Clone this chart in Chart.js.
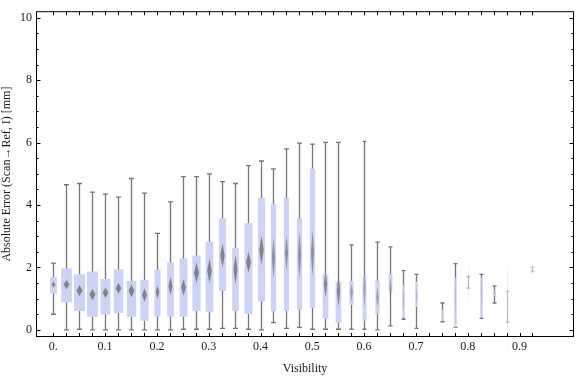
<!DOCTYPE html>
<html>
<head>
<meta charset="utf-8">
<script src="https://cdn.jsdelivr.net/npm/chart.js@4.4.1/dist/chart.umd.min.js"></script>
<style>
  html, body { margin: 0; padding: 0; background: #fff; }
</style>
</head>
<body>
<canvas id="chart" width="576" height="377"></canvas>
<script>
// bins of visibility (one box per bin), null = empty bin
const visibility = [0, 0.025, 0.05, 0.075, 0.1, 0.125, 0.15, 0.175, 0.2, 0.225,
  0.25, 0.275, 0.3, 0.325, 0.35, 0.375, 0.4, 0.425, 0.45, 0.475,
  0.5, 0.525, 0.55, 0.575, 0.6, 0.625, 0.65, 0.675, 0.7, 0.725,
  0.75, 0.775, 0.8, 0.825, 0.85, 0.875, 0.9, 0.925];
const whiskerLow = [0.50, 0.00, 0.02, 0.00, 0.00, 0.00, 0.00, 0.00, 0.00, 0.00,
  0.02, 0.02, 0.02, 0.05, 0.05, 0.02, 0.00, 0.23, 0.05, 0.08,
  0.02, 0.02, 0.02, 0.02, 0.02, 0.00, 0.13, 0.34, 0.05, null,
  0.26, 0.08, 1.34, 0.37, 0.86, 0.25, null, 1.87];
const quart1 = [1.17, 0.88, 0.60, 0.42, 0.49, 0.54, 0.42, 0.29, 0.42, 0.42,
  0.42, 0.60, 0.56, 1.25, 0.60, 0.51, 0.92, 0.60, 0.61, 0.64,
  0.70, 0.36, 0.23, 0.80, 0.29, 0.51, 1.28, 0.40, 0.73, null,
  0.28, 0.08, 1.40, 0.40, 1.08, 0.60, null, 1.90];
const median = [1.45, 1.45, 1.26, 1.13, 1.19, 1.33, 1.25, 1.12, 1.21, 1.40,
  1.36, 1.83, 1.89, 2.38, 1.93, 2.17, 2.56, 2.30, 2.46, 2.40,
  2.46, 1.46, 1.25, 1.20, 1.31, 1.04, 1.32, 1.00, 1.10, null,
  0.42, 1.10, 1.53, 1.19, 1.18, 0.75, null, 1.93];
const quart3 = [1.69, 1.97, 1.78, 1.87, 1.63, 1.94, 1.57, 1.60, 1.93, 2.16,
  2.29, 2.38, 2.82, 3.57, 2.63, 3.42, 4.23, 4.04, 4.23, 3.57,
  5.17, 1.78, 1.54, 1.57, 1.76, 1.57, 1.78, 1.43, 1.55, null,
  0.63, 1.67, 1.65, 1.67, 1.28, 0.90, null, 1.97];
const whiskerHigh = [2.14, 4.65, 4.69, 4.41, 4.35, 4.25, 4.85, 4.38, 3.09, 4.10,
  4.91, 4.91, 5.00, 4.75, 4.69, 5.26, 5.41, 5.16, 5.80, 5.98,
  5.95, 6.01, 6.01, 2.72, 6.04, 2.81, 2.66, 1.90, 1.78, null,
  0.86, 2.12, 1.71, 1.78, 1.41, 1.23, null, 2.01];
// half height of the median confidence diamond
const medianSpread = [0.10, 0.15, 0.18, 0.18, 0.17, 0.17, 0.21, 0.21, 0.21, 0.29,
  0.27, 0.34, 0.39, 0.39, 0.47, 0.34, 0.47, 0.66, 0.57, 0.76,
  0.74, 0.42, 0.52, 0.29, 0.60, 0.31, 0.37, 0.40, 0.30, null,
  0.20, 1.10, 0.77, 0.82, 0.10, 1.75, null, 0.21];
// relative sample size of each bin (drives box width)
const sampleShare = [0.61, 0.97, 1.00, 1.00, 0.88, 0.85, 0.85, 0.75, 0.55, 0.61,
  0.70, 0.75, 0.70, 0.66, 0.61, 0.73, 0.66, 0.48, 0.48, 0.48,
  0.48, 0.52, 0.52, 0.39, 0.36, 0.39, 0.36, 0.21, 0.21, 0,
  0.18, 0.18, 0.06, 0.18, 0.25, 0.05, 0, 0.05];

const xLabelValues = [0, 0.1, 0.2, 0.3, 0.4, 0.5, 0.6, 0.7, 0.8, 0.9];
const xTickLabels = ['0.', '0.1', '0.2', '0.3', '0.4', '0.5', '0.6', '0.7', '0.8', '0.9'];
const yLabelValues = [0, 2, 4, 6, 8, 10];
const yTickLabels = ['0', '2', '4', '6', '8', '10'];

const FONT = 'Liberation Serif';
const MAX_BOX = 11;

function clamp(v, a, b) { return Math.max(a, Math.min(b, v)); }

const boxWhiskerPlugin = {
  id: 'boxWhisker',
  afterDatasetsDraw(chart) {
    const ctx = chart.ctx;
    const xs = chart.scales.x, ys = chart.scales.y;
    ctx.save();
    visibility.forEach((v, i) => {
      if (median[i] == null) return;
      const x = Math.round(xs.getPixelForValue(v)) + 0.5;
      const w = MAX_BOX * sampleShare[i];
      const lineAlpha = clamp(sampleShare[i] * 8, 0.4, 1);
      const cap = clamp(w * 0.5, 2, 2.5);
      // whisker
      ctx.strokeStyle = 'rgba(118,118,118,' + lineAlpha + ')';
      ctx.lineWidth = 1.3;
      const yl = ys.getPixelForValue(whiskerLow[i]);
      const yh = ys.getPixelForValue(whiskerHigh[i]);
      ctx.beginPath();
      ctx.moveTo(x, yl); ctx.lineTo(x, yh);
      ctx.moveTo(x - cap, yl); ctx.lineTo(x + cap, yl);
      ctx.moveTo(x - cap, yh); ctx.lineTo(x + cap, yh);
      ctx.stroke();
      // box
      const y1 = ys.getPixelForValue(quart1[i]);
      const y3 = ys.getPixelForValue(quart3[i]);
      ctx.fillStyle = '#cdd3f5';
      ctx.fillRect(x - w / 2, y3, w, y1 - y3);
      // median diamond
      const ym = ys.getPixelForValue(median[i]);
      const yt = ys.getPixelForValue(median[i] + medianSpread[i]);
      const yb = ys.getPixelForValue(median[i] - medianSpread[i]);
      const hw = clamp(w * 0.3, 0.5, 3);
      const a = clamp(sampleShare[i] * 1.4, 0.2, 0.8);
      ctx.save();
      ctx.filter = 'blur(0.6px)';
      ctx.fillStyle = 'rgba(110,110,110,' + a + ')';
      ctx.beginPath();
      ctx.moveTo(x, yt); ctx.lineTo(x + hw, ym); ctx.lineTo(x, yb); ctx.lineTo(x - hw, ym);
      ctx.closePath();
      ctx.fill();
      ctx.restore();
    });

    // frame with inward ticks on all sides
    const ca = chart.chartArea;
    ctx.strokeStyle = '#000';
    ctx.lineWidth = 1;
    ctx.strokeRect(ca.left + 0.5, ca.top + 0.5, ca.right - ca.left - 1, ca.bottom - ca.top - 1);
    ctx.beginPath();
    xs.ticks.forEach(t => {
      const px = Math.round(xs.getPixelForValue(t.value)) + 0.5;
      ctx.moveTo(px, ca.bottom); ctx.lineTo(px, ca.bottom - 4);
      ctx.moveTo(px, ca.top); ctx.lineTo(px, ca.top + 4);
    });
    ys.ticks.forEach(t => {
      const py = Math.round(ys.getPixelForValue(t.value)) + 0.5;
      const len = yLabelValues.includes(t.value) ? 4.5 : 2.5;
      ctx.moveTo(ca.left, py); ctx.lineTo(ca.left + len, py);
      ctx.moveTo(ca.right, py); ctx.lineTo(ca.right - len, py);
    });
    ctx.stroke();
    ctx.restore();
  }
};

const yTickValues = [];
for (let k = 0; k <= 20; k++) yTickValues.push(k * 0.5);

new Chart(document.getElementById('chart'), {
  type: 'scatter',
  data: {
    datasets: [{
      label: 'median',
      data: visibility.map((v, i) => ({ x: v, y: median[i] })).filter(p => p.y != null),
      pointRadius: 0,
      showLine: false
    }]
  },
  options: {
    responsive: false,
    animation: false,
    layout: { padding: { top: 4, right: 2, left: 0, bottom: 0 } },
    plugins: { legend: { display: false }, tooltip: { enabled: false } },
    scales: {
      x: {
        type: 'linear',
        min: -0.0334,
        max: 1.0052,
        afterBuildTicks: s => { s.ticks = visibility.map(v => ({ value: v })); },
        afterFit: s => { s.height = 40; },
        grid: { display: false, drawTicks: false },
        border: { display: false },
        ticks: {
          autoSkip: false,
          maxRotation: 0,
          padding: 3,
          color: '#1a1a1a',
          font: { family: FONT, size: 12 },
          callback: value => {
            const j = xLabelValues.findIndex(lv => Math.abs(lv - value) < 1e-6);
            return j >= 0 ? xTickLabels[j] : '';
          }
        },
        title: {
          display: true,
          text: 'Visibility',
          color: '#1a1a1a',
          font: { family: FONT, size: 12 },
          padding: { top: 0, bottom: 1 }
        }
      },
      y: {
        type: 'linear',
        min: -0.229,
        max: 10.21,
        afterBuildTicks: s => { s.ticks = yTickValues.map(v => ({ value: v })); },
        afterFit: s => { s.width = 36; },
        grid: { display: false, drawTicks: false },
        border: { display: false },
        ticks: {
          autoSkip: false,
          padding: 4,
          color: '#1a1a1a',
          font: { family: FONT, size: 12 },
          callback: value => {
            const j = yLabelValues.indexOf(value);
            return j >= 0 ? yTickLabels[j] : '';
          }
        },
        title: {
          display: true,
          text: 'Absolute Error (Scan\u2192Ref, I) [mm]',
          color: '#1a1a1a',
          font: { family: FONT, size: 12 },
          padding: { top: 0, bottom: 0 }
        }
      }
    }
  },
  plugins: [boxWhiskerPlugin]
});
</script>
</body>
</html>
